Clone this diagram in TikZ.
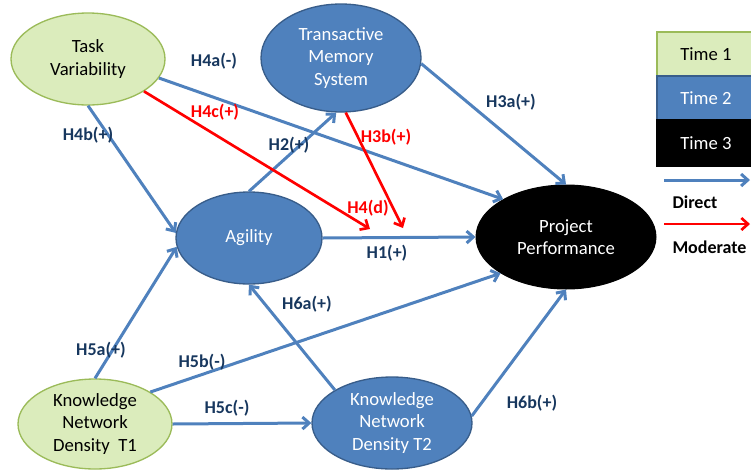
\documentclass[tikz,border=0pt]{standalone}
\usepackage{fontspec}
\setmainfont{Carlito}
\usetikzlibrary{shapes.geometric,arrows.meta}

\definecolor{accblue}{RGB}{79,129,189}
\definecolor{accblueline}{RGB}{56,93,138}
\definecolor{lightgreen}{RGB}{219,236,188}
\definecolor{greenline}{RGB}{155,187,89}
\definecolor{navytext}{RGB}{23,55,94}

\tikzset{every picture/.style={line width=0.75pt}}

\begin{document}
\begin{tikzpicture}[x=0.75pt,y=0.75pt,yscale=-1,xscale=1,
  nodetext/.style={font=\fontsize{14}{17}\selectfont, align=center, inner sep=0pt},
  greenell/.style={ellipse, nodetext, draw=greenline, line width=1pt, fill=lightgreen, text=black},
  blueell/.style={ellipse, nodetext, draw=accblueline, line width=1pt, fill=accblue, text=white},
  legbox/.style={rectangle, nodetext, minimum width=73.5pt, minimum height=33pt, line width=1pt},
  direct/.style={draw=accblue, line width=2.25pt, -{Straight Barb[length=5pt,width=9pt]}},
  moderate/.style={draw=red, line width=2pt, -{Straight Barb[length=5pt,width=9pt]}},
  hyp/.style={font=\fontsize{13.5}{15}\selectfont\bfseries, text=navytext, inner sep=0.75pt},
  hypred/.style={hyp, text=red}]
        %set diagram size 751 x 469
        \useasboundingbox (0,0) rectangle (751,469);

        %Shape: Ellipse
        \node [greenell, minimum width=115.5pt, minimum height=69pt] (tv) at (88,59) {Task\\Variability};
        %Shape: Ellipse
        \node [blueell, minimum width=120pt, minimum height=81pt] (tms) at (341,58) {Transactive\\Memory\\System};
        %Shape: Ellipse
        \node [blueell, minimum width=109.5pt, minimum height=69pt] (ag) at (249,238) {Agility};
        %Shape: Ellipse
        \node [ellipse, nodetext, draw=black, fill=black, text=white, minimum width=135pt, minimum height=78pt] (pp) at (566,237) {Project\\Performance};
        %Shape: Ellipse
        \node [greenell, minimum width=115.5pt, minimum height=67.5pt] (knda) at (95,424) {Knowledge\\Network\\Density~~T1};
        %Shape: Ellipse
        \node [blueell, minimum width=120pt, minimum height=69pt] (kndb) at (392,423) {Knowledge\\Network\\Density T2};

        %Legend boxes
        \node [legbox, draw=greenline, fill=lightgreen, text=black] (timea) at (706,54) {Time 1};
        \node [legbox, draw=accblueline, fill=accblue, text=white] (timeb) at (706,98) {Time 2};
        \node [legbox, draw=black, fill=black, text=white, minimum height=34.5pt] (timec) at (706,143) {Time 3};

        %Direct effects
        \draw [direct] (tv.-15) -- (pp.149);
        \draw [direct] (tv.-90) -- (ag.176);
        \draw [direct] (tms.-4) -- (pp.90);
        \draw [direct] (ag.90) -- (tms.-95);
        \draw [direct] (ag.0) -- (pp.180);
        \draw [direct] (knda.90) -- (ag.-173);
        \draw [direct] (knda.30) -- (pp.-151);
        \draw [direct] (knda.0) -- (kndb.180);
        \draw [direct] (kndb.150) -- (ag.-90);
        \draw [direct] (kndb.5) -- (pp.-90);

        %Moderating effects
        \coordinate (hfourcend) at (370,229);
        \coordinate (hthreebend) at (403,228);
        \draw [moderate] (tv.-30) -- (hfourcend);
        \draw [moderate] (tms.-85) -- (hthreebend);

        %Legend arrows
        \coordinate (dirstart) at (664,180);
        \coordinate (dirend) at (750,180);
        \coordinate (modstart) at (664,224);
        \coordinate (modend) at (750,224);
        \draw [direct] (dirstart) -- (dirend);
        \draw [moderate] (modstart) -- (modend);

        % Text Node
        \node [hyp] (lhfoura) at (214,61) {H4a(-)};
        % Text Node
        \node [hypred] (lhfourc) at (215,112) {H4c(+)};
        % Text Node
        \node [hyp] (lhfourb) at (88,135) {H4b(+)};
        % Text Node
        \node [hyp] (lhthreea) at (511,102) {H3a(+)};
        % Text Node
        \node [hypred] (lhthreeb) at (386,137) {H3b(+)};
        % Text Node
        \node [hyp] (lhtwo) at (289,145) {H2(+)};
        % Text Node
        \node [hypred] (lhfourd) at (368,208) {H4(d)};
        % Text Node
        \node [hyp] (lhone) at (387,253) {H1(+)};
        % Text Node
        \node [hyp] (lhfivea) at (101,350) {H5a(+)};
        % Text Node
        \node [hyp] (lhfiveb) at (202,362) {H5b(-)};
        % Text Node
        \node [hyp] (lhfivec) at (227,408) {H5c(-)};
        % Text Node
        \node [hyp] (lhsixa) at (307,304) {H6a(+)};
        % Text Node
        \node [hyp] (lhsixb) at (532,403) {H6b(+)};
        % Text Node
        \node [hyp, text=black, anchor=west] (ldirect) at (671,202) {Direct};
        % Text Node
        \node [hyp, text=black, anchor=west] (lmoderate) at (671,247) {Moderate};

\end{tikzpicture}
\end{document}
